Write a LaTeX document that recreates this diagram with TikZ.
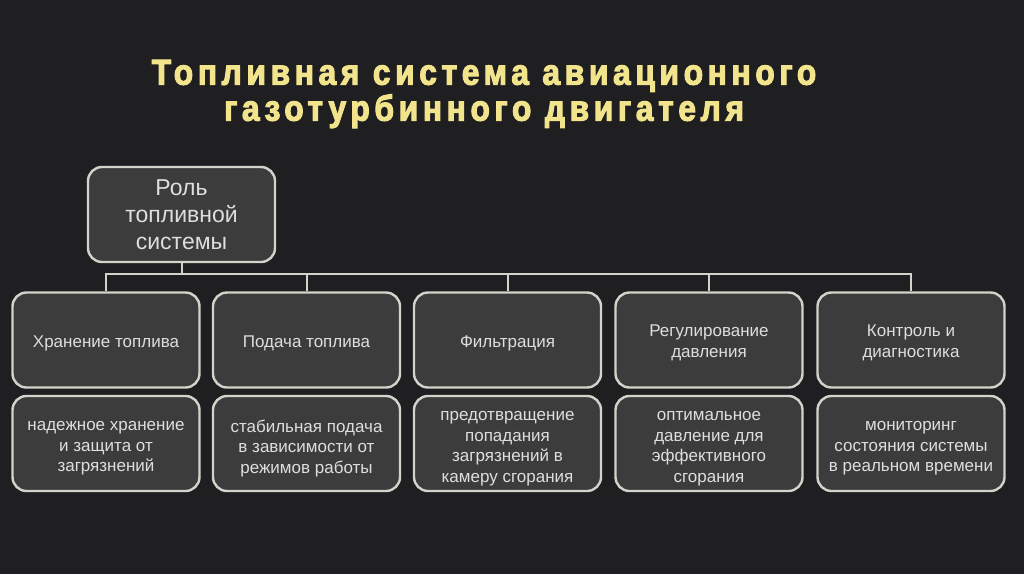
\documentclass[tikz,border=0pt]{standalone}
\usepackage{fontspec}
\setmainfont{Liberation Sans}
\newfontfamily\titlefont[FakeStretch=0.88,FakeBold=3,LetterSpace=13]{Liberation Sans Bold}
\definecolor{bg}{HTML}{1F1F21}
\definecolor{boxfill}{HTML}{3C3C3D}
\definecolor{boxline}{HTML}{D4D2CA}
\definecolor{titlecol}{HTML}{F2E48C}
\definecolor{txt}{HTML}{DEDEDE}
\tikzset{
  card/.style={draw=boxline, line width=2.4pt, fill=boxfill, rounded corners=14pt,
    minimum width=187pt, minimum height=95pt, inner sep=2pt, align=center,
    text=txt, font=\fontsize{23}{27}\selectfont},
  cardtext/.style={inner sep=0pt, align=center, text=txt, font=\fontsize{17}{20.6}\selectfont},
  wire/.style={draw=boxline, line width=2pt},
}
\begin{document}
\begin{tikzpicture}[x=1pt,y=-1pt]
\fill[bg] (0,0) rectangle (1024,574);
\useasboundingbox (0,0) rectangle (1024,574);
\node[text=titlecol, font=\titlefont\fontsize{36}{36}\selectfont, align=center] (title) at (484,94) {Топливная система авиационного\\газотурбинного двигателя};
\node[card] (root) at (181.5,214.5) {Роль\\топливной\\системы};
\foreach \n/\x in {1/106,2/306.5,3/507.5,4/709,5/911}{
  \node[card] (a\n) at (\x,340) {};
  \node[card] (b\n) at (\x,443.5) {};
}
\node[cardtext] (ta1) at ([yshift=-3pt]a1.center) {Хранение топлива};
\node[cardtext] (ta2) at ([yshift=-3pt]a2.center) {Подача топлива};
\node[cardtext] (ta3) at ([yshift=-3pt]a3.center) {Фильтрация};
\node[cardtext] (ta4) at ([yshift=-3pt]a4.center) {Регулирование\\давления};
\node[cardtext] (ta5) at ([yshift=-3pt]a5.center) {Контроль и\\диагностика};
\node[cardtext] (tb1) at ([yshift=-5pt]b1.center) {надежное хранение\\и защита от\\загрязнений};
\node[cardtext] (tb2) at ([yshift=-5pt]b2.center) {стабильная подача\\в зависимости от\\режимов работы};
\node[cardtext] (tb3) at ([yshift=-5pt]b3.center) {предотвращение\\попадания\\загрязнений в\\камеру сгорания};
\node[cardtext] (tb4) at ([yshift=-5pt]b4.center) {оптимальное\\давление для\\эффективного\\сгорания};
\node[cardtext] (tb5) at ([yshift=-5pt]b5.center) {мониторинг\\состояния системы\\в реальном времени};
\coordinate (bus) at (0,274);
\draw[wire] (root.south) -- (root.south |- bus);
\draw[wire] (a1.north) -- (a1.north |- bus) -- (a5.north |- bus) -- (a5.north);
\foreach \n in {a2,a3,a4} \draw[wire] (\n.north) -- (\n.north |- bus);
\end{tikzpicture}
\end{document}
